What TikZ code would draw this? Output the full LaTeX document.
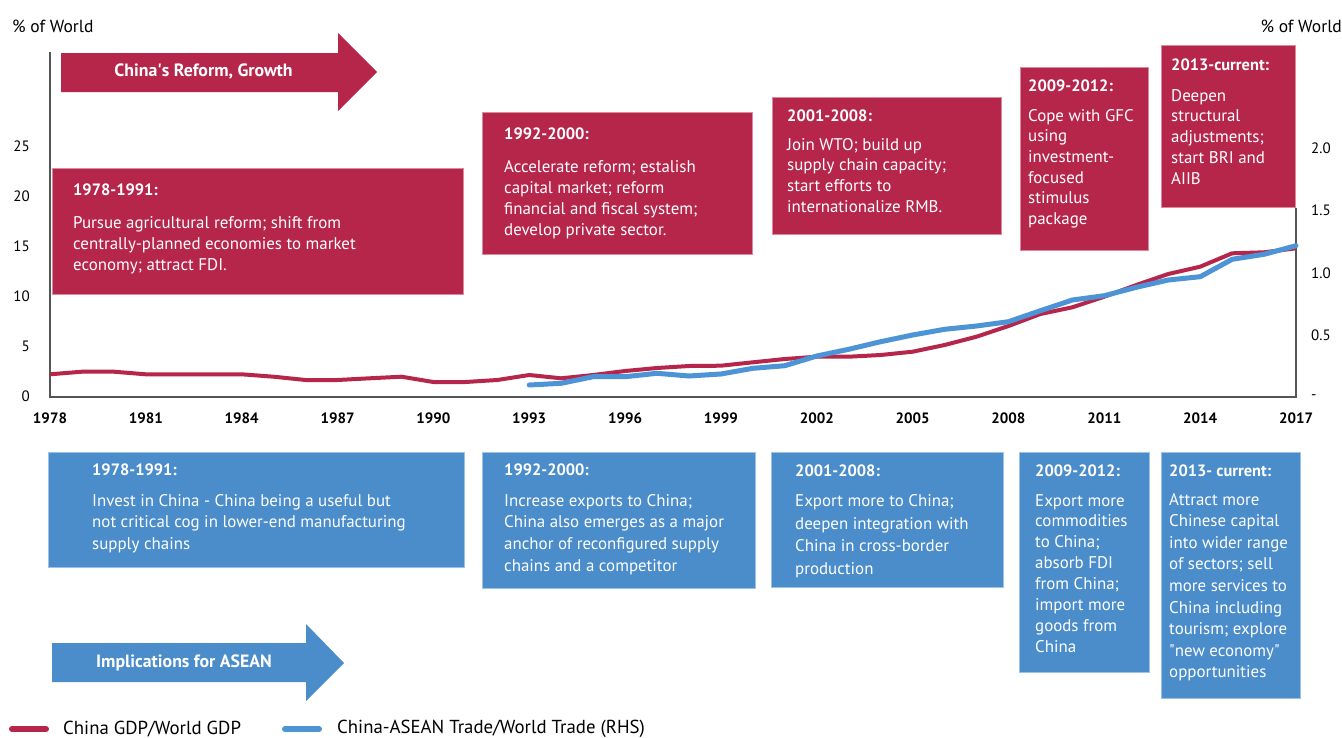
\documentclass[tikz,border=0pt]{standalone}
\usepackage{fontspec}
\setmainfont{PT Sans}
\definecolor{cred}{HTML}{B6264B}
\definecolor{credb}{HTML}{D98A9D}
\definecolor{cblue}{HTML}{4A8DCA}
\definecolor{cblueb}{HTML}{9CC2E6}
\definecolor{cline}{HTML}{4C94D5}
\definecolor{caxis}{HTML}{555555}
\tikzset{
  redbox/.style={fill=cred, draw=credb, line width=0.8pt, anchor=north west, inner sep=0pt, outer sep=0pt},
  bluebox/.style={fill=cblue, draw=cblueb, line width=0.8pt, anchor=north west, inner sep=0pt, outer sep=0pt},
  ttl/.style={text=white, font=\fontsize{16.4}{19}\selectfont\bfseries, anchor=base west, inner sep=0pt},
  bdy/.style={text=white, font=\fontsize{16.9}{20}\selectfont, anchor=base west, inner sep=0pt},
  arrtxt/.style={text=white, font=\fontsize{17.8}{20}\selectfont\bfseries, inner sep=0pt},
  axlab/.style={font=\fontsize{15}{18}\selectfont, text=black, inner sep=0pt},
  yrlab/.style={font=\fontsize{15}{18}\selectfont\bfseries, text=black, inner sep=0pt},
  plain/.style={font=\fontsize{17.5}{20}\selectfont, text=black, inner sep=0pt},
  legtxt/.style={font=\fontsize{18.8}{21}\selectfont, text=black, inner sep=0pt},
  axisline/.style={draw=caxis, line width=1.2pt},
  redline/.style={draw=cred, line width=4pt, line join=round},
  blueline/.style={draw=cline, line width=5pt, line join=round, line cap=round},
}
\newcommand\mylines[5]{%
  \foreach \ln [count=\i from 0] in {#5}{\node[bdy] (#1-\i) at (#2,{#3+\i*#4}) {\ln};}}
\begin{document}
\begin{tikzpicture}[x=1pt,y=-1pt]
\useasboundingbox (0,0) rectangle (1342,737);
\fill[white] (0,0) rectangle (1342,737);

% axis titles
\node[plain, anchor=west] (lt) at (12,26) {\% of World};
\node[plain, anchor=east] (rt) at (1342,26) {\% of World};

% axes
\coordinate (a0) at (50,52);
\coordinate (a1) at (50,397);
\coordinate (a2) at (1296,397);
\coordinate (a3) at (1296,208);
\draw[axisline] (a0) -- (a1) -- (a2) -- (a3);

% left labels
\foreach \v in {0,5,10,15,20,25}{\node[axlab, anchor=east] (l\v) at (30,{396-10*\v}) {\v};}
% right labels
\node[axlab, anchor=west] (r20) at (1311,148) {2.0};
\node[axlab, anchor=west] (r15) at (1311,210.5) {1.5};
\node[axlab, anchor=west] (r10) at (1311,273) {1.0};
\node[axlab, anchor=west] (r05) at (1311,335.5) {0.5};
\node[axlab, anchor=west] (r00) at (1311,397) {-};

% year labels
\foreach \yr [count=\i from 0] in {1978,1981,1984,1987,1990,1993,1996,1999,2002,2005,2008,2011,2014,2017}
  {\node[yrlab] (y\yr) at ({50+\i*3*31.949},418) {\yr};}

% data
\begin{scope}[shift={(50,397)}, x=31.949pt, y=10pt]
\draw[redline] plot coordinates {(0,2.27) (1,2.53) (2,2.53) (3,2.27) (4,2.27) (5,2.27) (6,2.27) (7,2.03) (8,1.7) (9,1.7) (10,1.87) (11,2.03) (12,1.5) (13,1.5) (14,1.7) (15,2.2) (16,1.87) (17,2.2) (18,2.6) (19,2.9) (20,3.1) (21,3.13) (22,3.47) (23,3.8) (24,4.03) (25,4.03) (26,4.2) (27,4.53) (28,5.2) (29,6.03) (30,7.1) (31,8.3) (32,8.97) (33,10.03) (34,11.2) (35,12.3) (36,13.03) (37,14.37) (38,14.47) (39,14.87)};
\draw[blueline] plot coordinates {(15,1.2) (16,1.37) (17,2.03) (18,2.03) (19,2.37) (20,2.1) (21,2.3) (22,2.87) (23,3.13) (24,4.1) (25,4.77) (26,5.53) (27,6.2) (28,6.77) (29,7.1) (30,7.53) (31,8.63) (32,9.7) (33,10.13) (34,10.97) (35,11.7) (36,12.03) (37,13.77) (38,14.27) (39,15.13)};
\end{scope}

% red arrow
\fill[cred] (61,53) -- (338,53) -- (338,33) -- (377,72) -- (338,111) -- (338,92) -- (61,92) -- cycle;
\node[arrtxt] (rarr) at (203.5,71) {China\textquotesingle s Reform, Growth};

% blue arrow
\fill[cblue] (52,643) -- (306,643) -- (306,624) -- (344,663) -- (306,701) -- (306,682) -- (52,682) -- cycle;
\node[arrtxt] (barr) at (184,663) {Implications for ASEAN};

% red boxes
\node[redbox, minimum width=411pt, minimum height=126pt] (rb1) at (52,168) {};
\node[ttl] (rb1t) at (73,195) {1978-1991:};
\mylines{rb1b}{73}{228}{21.4}{{Pursue agricultural reform; shift from},{centrally-planned economies to market},{economy; attract FDI.}}

\node[redbox, minimum width=270pt, minimum height=142pt] (rb2) at (482,112) {};
\node[ttl] (rb2t) at (504,139) {1992-2000:};
\mylines{rb2b}{504}{172}{21.3}{{Accelerate reform; estalish},{capital market; reform},{financial and fiscal system;},{develop private sector.}}

\node[redbox, minimum width=229pt, minimum height=137pt] (rb3) at (772,97) {};
\node[ttl] (rb3t) at (787,121) {2001-2008:};
\mylines{rb3b}{787}{150}{20.8}{{Join WTO; build up},{supply chain capacity;},{start efforts to},{internationalize RMB.}}

\node[redbox, minimum width=128pt, minimum height=183pt] (rb4) at (1020,67) {};
\node[ttl] (rb4t) at (1028,91) {2009-2012:};
\mylines{rb4b}{1028}{121}{20.7}{{Cope with GFC},{using},{investment-},{focused},{stimulus},{package}}

\node[redbox, minimum width=134pt, minimum height=162pt] (rb5) at (1161,45) {};
\node[ttl] (rb5t) at (1171,70) {2013-current:};
\mylines{rb5b}{1171}{101}{20.8}{{Deepen},{structural},{adjustments;},{start BRI and},{AIIB}}

% blue boxes
\node[bluebox, minimum width=416pt, minimum height=115pt] (bb1) at (48,452) {};
\node[ttl] (bb1t) at (92,475) {1978-1991:};
\mylines{bb1b}{92}{506}{21.7}{{Invest in China - China being a useful but},{not critical cog in lower-end manufacturing},{supply chains}}

\node[bluebox, minimum width=273pt, minimum height=136pt] (bb2) at (482,452) {};
\node[ttl] (bb2t) at (504,475) {1992-2000:};
\mylines{bb2b}{504}{506}{21.7}{{Increase exports to China;},{China also emerges as a major},{anchor of reconfigured supply},{chains and a competitor}}

\node[bluebox, minimum width=232pt, minimum height=135pt] (bb3) at (771,452) {};
\node[ttl] (bb3t) at (795,476) {2001-2008:};
\mylines{bb3b}{795}{506.5}{22.5}{{Export more to China;},{deepen integration with},{China in cross-border},{production}}

\node[bluebox, minimum width=130pt, minimum height=220pt] (bb4) at (1019,452) {};
\node[ttl] (bb4t) at (1035,476) {2009-2012:};
\mylines{bb4b}{1035}{506}{20.86}{{Export more},{commodities},{to China;},{absorb FDI},{from China;},{import more},{goods from},{China}}

\node[bluebox, minimum width=139pt, minimum height=246pt] (bb5) at (1161,452) {};
\node[ttl] (bb5t) at (1169,476) {2013- current:};
\mylines{bb5b}{1169}{505}{21.6}{{Attract more},{Chinese capital},{into wider range},{of sectors; sell},{more services to},{China including},{tourism; explore},{\textquotedbl new economy\textquotedbl},{opportunities}}

% legend
\coordinate (lg1a) at (12,729);
\coordinate (lg1b) at (46,729);
\draw[draw=cred, line width=6pt, line cap=round] (lg1a) -- (lg1b);
\node[legtxt, anchor=west] (lg1) at (63,729) {China GDP/World GDP};
\coordinate (lg2a) at (285,729);
\coordinate (lg2b) at (319,729);
\draw[draw=cline, line width=6pt, line cap=round] (lg2a) -- (lg2b);
\node[legtxt, anchor=west] (lg2) at (337,729) {China-ASEAN Trade/World Trade (RHS)};
\end{tikzpicture}
\end{document}
